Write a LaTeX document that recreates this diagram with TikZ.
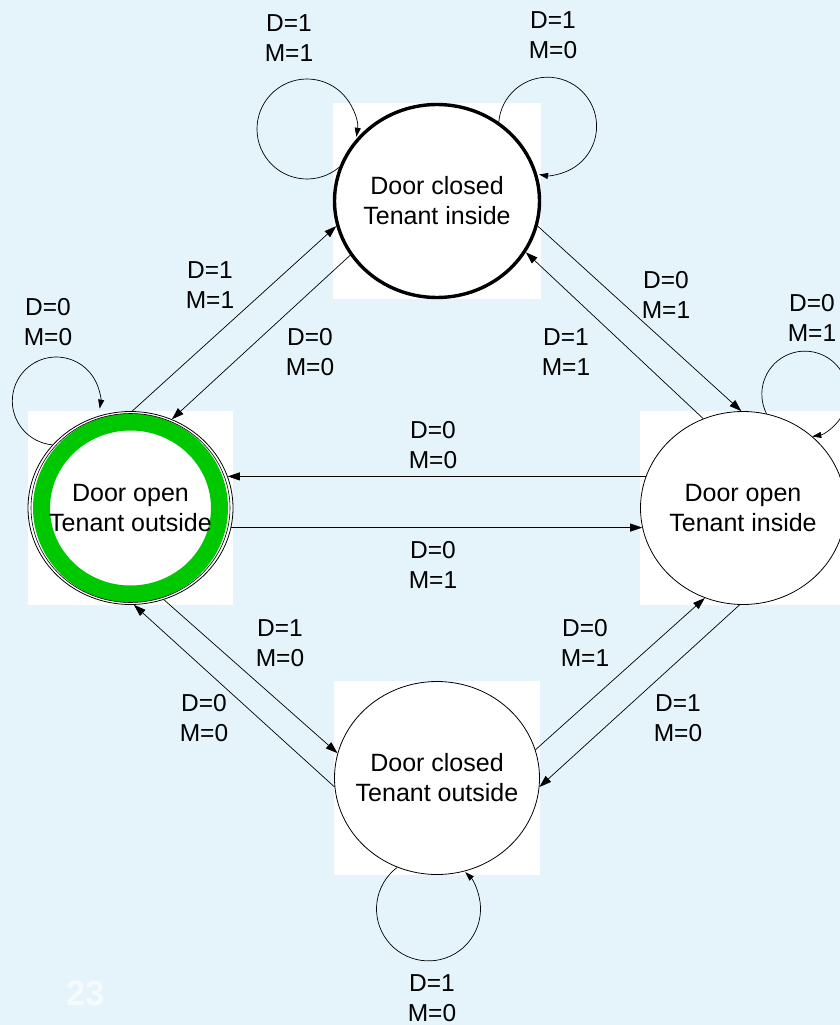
\documentclass[tikz,border=0pt]{standalone}
\usepackage{fontspec}
\setmainfont{Liberation Sans}
\usetikzlibrary{shapes.geometric,arrows.meta,backgrounds}
\definecolor{slidebg}{HTML}{E5F4FA}
\definecolor{ringgreen}{HTML}{00C800}
\definecolor{pagenum}{HTML}{F5FAFC}
\begin{document}
\begin{tikzpicture}[x=1pt,y=1pt,
  state/.style={ellipse, draw=black, line width=0.8pt, minimum width=205pt,
    minimum height=193pt, inner sep=0pt},
  stext/.style={align=center, inner sep=0pt, font=\fontsize{25}{30}\selectfont},
  cond/.style={align=center, inner sep=0pt, font=\fontsize{24.5}{30}\selectfont},
  trans/.style={line width=0.7pt, -{Triangle[length=12pt,width=8pt]}},
  selfloop/.style={line width=0.7pt, -{Triangle[length=9pt,width=6pt]}},
]
\useasboundingbox (0,0) rectangle (840,-1025);
\clip (0,0) rectangle (840,-1025);

% states (the caption is a centred label so it does not widen the ellipse)
\node[state, line width=3.4pt, label={[stext]center:{Door closed\\Tenant inside}}] (T) at (437,-201) {};
\node[state, label={[stext]center:{Door open\\Tenant outside}}] (L) at (130.5,-508) {};
\node[state, label={[stext]center:{Door open\\Tenant inside}}] (R) at (743,-508) {};
\node[state, label={[stext]center:{Door closed\\Tenant outside}}] (B) at (437,-778) {};

% slide background, white boxes behind the states, marker ring of the start state
\begin{scope}[on background layer]
  \fill[slidebg] (0,0) rectangle (840,-1025);
  \foreach \n in {T,L,R,B}
    \fill[white] (\n.west |- \n.north) rectangle (\n.east |- \n.south);
  \draw[ringgreen, line width=17pt] (L.center) ellipse[x radius=89, y radius=86];
  \draw[line width=0.6pt] (L.center) ellipse[x radius=99.5, y radius=94.5];
\end{scope}

% transitions between states
\draw[trans] (L.89) -- (T.194);
\draw[trans] (T.212) -- (L.65);
\draw[trans] (T.346) -- (R.91);
\draw[trans] (R.114) -- (T.330);
\draw[trans] (R.162) -- (L.18);
\draw[trans] (L.-11) -- (R.191);
\draw[trans] (L.-70) -- (B.166);
\draw[trans] (B.185) -- (L.-88);
\draw[trans] (B.16) -- (R.247);
\draw[trans] (R.268) -- (B.355);

% self-loops
\draw[selfloop] (T.161) arc[start angle=-50, end angle=-369, radius=50];
\draw[selfloop] (T.52) arc[start angle=175, end angle=-100, radius=49];
\draw[selfloop] (L.141) arc[start angle=-95, end angle=-370, radius=44];
\draw[selfloop] (R.76) arc[start angle=-153, end angle=-440, radius=43];
\draw[selfloop] (B.246) arc[start angle=127, end angle=405, radius=52];

% input conditions
\node[cond] (cTT1) at (289,-38) {D=1\\M=1};
\node[cond] (cTT2) at (553,-35) {D=1\\M=0};
\node[cond] (cLL) at (48,-322) {D=0\\M=0};
\node[cond] (cRR) at (812,-318) {D=0\\M=1};
\node[cond] (cBB) at (432,-998) {D=1\\M=0};
\node[cond] (cLT) at (210,-285) {D=1\\M=1};
\node[cond] (cTL) at (310,-352) {D=0\\M=0};
\node[cond] (cTR) at (666,-295) {D=0\\M=1};
\node[cond] (cRT) at (566,-352) {D=1\\M=1};
\node[cond] (cRL) at (433,-445) {D=0\\M=0};
\node[cond] (cLR) at (433,-565) {D=0\\M=1};
\node[cond] (cLB) at (280,-643) {D=1\\M=0};
\node[cond] (cBL) at (204,-718) {D=0\\M=0};
\node[cond] (cBR) at (585,-643) {D=0\\M=1};
\node[cond] (cRB) at (678,-718) {D=1\\M=0};

% slide number
\node[font=\fontsize{35}{35}\selectfont\bfseries, text=pagenum] (pgno) at (86,-993) {23};
\end{tikzpicture}
\end{document}
